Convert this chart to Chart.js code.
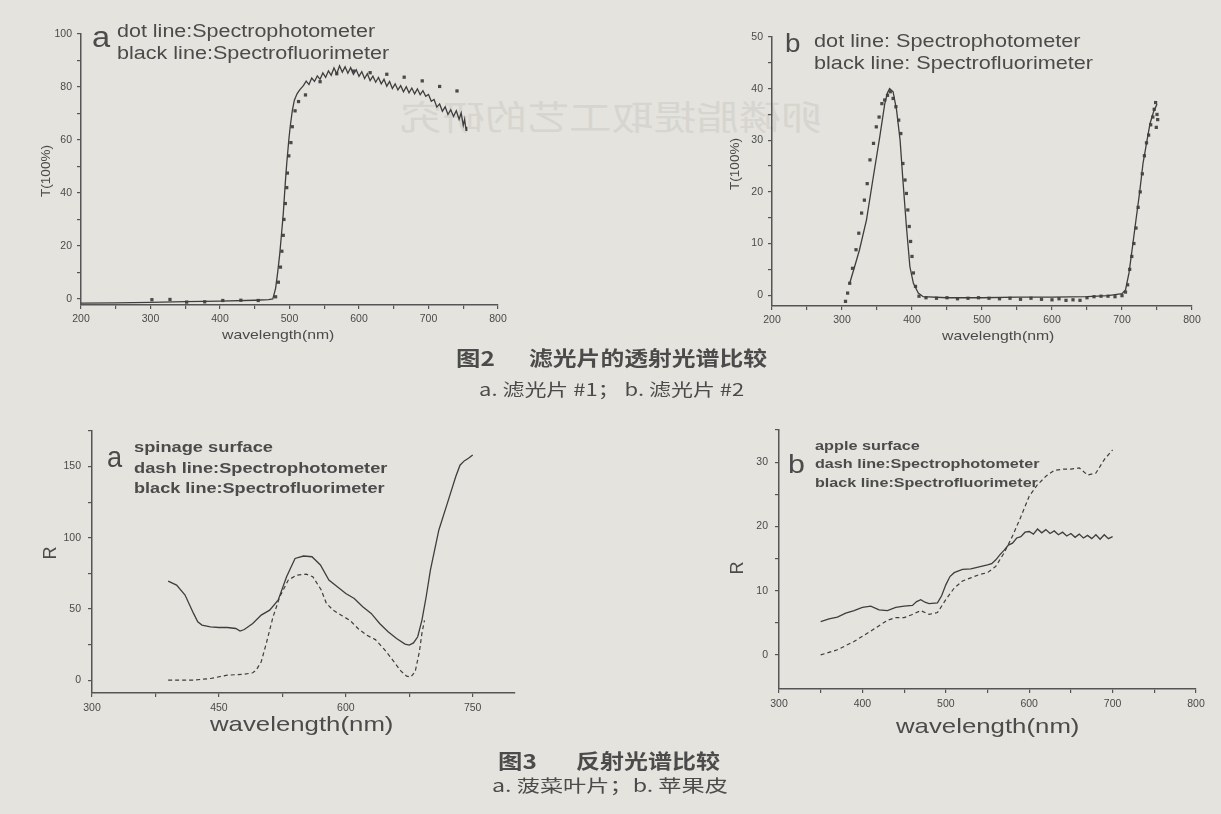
<!DOCTYPE html>
<html lang="zh-CN">
<head>
<meta charset="UTF-8">
<title>滤光片的透射光谱比较 / 反射光谱比较</title>
<script src="https://cdn.jsdelivr.net/npm/chart.js"></script>
<style>
  body { margin: 0; background: #e4e3de; }
  #page { position: relative; width: 1221px; height: 814px; overflow: hidden; background: #e4e3de; }
  #page canvas { position: absolute; left: 0; top: 0; }
  .t { position: absolute; white-space: pre; line-height: 1; color: #4b4b4b;
       font-family: "Liberation Sans", Arial, sans-serif; transform-origin: 0 0; }
  .cjk { font-family: "Noto Sans CJK SC", sans-serif; }
  .ghost { color: #d7d5cf; }
</style>
</head>
<body>
<div id="page">
  <canvas id="c1" width="1221" height="814"></canvas>
  <canvas id="c2" width="1221" height="814"></canvas>
  <canvas id="c3" width="1221" height="814"></canvas>
  <canvas id="c4" width="1221" height="814"></canvas>
</div>

<script>
// ---- 图2 a : 滤光片 #1 ----
const a1FluorNm = [200, 250, 300, 350, 400, 450, 470, 476, 480, 483,
    486, 489, 491, 494, 496, 499, 501, 504, 507, 511,
    515, 520, 524, 528, 532, 536, 540, 544, 548, 552,
    556, 560, 564, 568, 572, 576, 580, 584, 588, 592,
    596, 600, 604, 608, 612, 616, 620, 624, 628, 632,
    636, 640, 644, 648, 652, 656, 660, 664, 668, 672,
    676, 680, 684, 688, 692, 696, 700, 704, 708, 712,
    716, 720, 724, 728, 732, 736, 740, 744, 747, 750,
    752, 754, 755];
const a1FluorT = [-1.6, -1.5, -1.3, -1.0, -0.8, -0.5, -0.3, 0, 4, 10,
    17, 26, 32, 44, 51, 60, 65, 71, 75, 77.5,
    79, 80.5, 82.2, 80.9, 83.4, 82.1, 84.2, 82.9, 85.3, 83.6,
    86.1, 84.4, 87.2, 85.0, 88.0, 85.6, 87.6, 85.2, 87.3, 84.8,
    86.5, 84.0, 85.8, 83.2, 85.0, 82.4, 84.1, 81.8, 83.6, 81.2,
    82.9, 80.3, 82.1, 79.4, 81.2, 78.9, 80.5, 78.2, 80.1, 77.8,
    79.6, 77.4, 79.3, 77.1, 78.6, 76.5, 77.2, 74.6, 75.3, 72.4,
    73.6, 70.8, 72.5, 69.6, 71.4, 68.9, 71.0, 67.8, 70.2, 65.5,
    67.8, 63.6, 65.0];
const a1PhotoNm = [302, 328, 352, 378, 404, 430, 455, 480, 484, 487,
    489, 491, 492, 494, 496, 497, 499, 502, 504, 508,
    513, 523, 544, 568, 592, 616, 640, 665, 691, 716, 741];
const a1PhotoT = [-0.3, -0.2, -1.2, -1.1, -0.6, -0.5, -0.6, 0.8, 6.3, 12,
    18, 24, 30, 36, 42, 47.5, 54, 59, 65, 71,
    74.5, 77, 82, 85, 86, 85.4, 84.8, 83.7, 82.3, 80.2, 78.5];

// ---- 图2 b : 滤光片 #2 ----
const b1FluorNm = [311, 318, 325, 335, 344, 354, 361, 365, 368, 373,
    378, 383, 387, 392, 397, 402, 409, 416, 450, 500,
    550, 600, 650, 680, 700, 705, 710, 715, 720, 725,
    730, 735, 740, 745, 750];
const b1FluorT = [2.3, 5.5, 8.8, 14.6, 22.3, 30.7, 37, 39.2, 40, 39.4,
    35.8, 30, 22.3, 13.3, 5.5, 2.3, 0.4, -0.3, -0.5, -0.5,
    -0.4, -0.4, -0.3, -0.1, 0.3, 1, 4.3, 9.4, 14.6, 19.7,
    25.5, 29.4, 33.2, 35.5, 37];
const b1PhotoNm = [305, 308, 311, 315, 320, 324, 328, 332, 336, 340,
    345, 349, 353, 357, 361, 365, 369, 373, 377, 381,
    384, 387, 390, 392, 394, 396, 398, 400, 402, 405,
    410, 420, 435, 450, 465, 480, 495, 510, 525, 540,
    555, 570, 585, 600, 610, 620, 630, 640, 650, 660,
    670, 680, 690, 700, 705, 708, 711, 714, 717, 720,
    723, 726, 729, 732, 735, 738, 741, 744, 746, 748,
    749, 750, 751];
const b1PhotoT = [-1.2, 0.4, 2.3, 5.2, 8.8, 12, 15.9, 18.4, 21.6, 26.2,
    29.4, 32.6, 34.5, 37.1, 37.8, 38.7, 39.4, 38.1, 36.5, 33.9,
    31.3, 25.5, 22.3, 19.7, 16.5, 13.3, 10.4, 7.5, 4.3, 1.7,
    -0.2, -0.5, -0.6, -0.5, -0.7, -0.6, -0.5, -0.6, -0.7, -0.6,
    -0.8, -0.6, -0.8, -0.9, -0.7, -1.0, -0.9, -1.0, -0.5, -0.3,
    -0.2, -0.2, -0.3, -0.1, 0.6, 2, 5, 7.5, 10, 13,
    17, 20, 23.5, 27, 29.5, 31, 33, 34.5, 36, 37.3,
    32.5, 35, 34];

// ---- 图3 a : 菠菜叶片 ----
const a2FluorNm = [390, 400, 410, 420, 425, 430, 440, 450, 460, 470,
    475, 480, 490, 500, 510, 520, 530, 540, 550, 560,
    570, 580, 590, 600, 610, 620, 630, 640, 650, 660,
    670, 675, 680, 685, 690, 695, 700, 710, 720, 730,
    735, 740, 745, 750];
const a2FluorR = [69.6, 66.8, 59.8, 46.9, 41, 38.7, 37.5, 37, 37, 36.3,
    34.5, 35.6, 39.8, 45.7, 49.2, 56.2, 72.6, 85.5, 87.2, 86.7,
    80.9, 70.3, 65.6, 60.9, 57.4, 51.6, 46.9, 39.8, 34, 29.3,
    25.3, 24.6, 26.2, 30.5, 42.2, 58.6, 77.3, 105.5, 124.2, 143,
    151, 154, 155.8, 158.2];
const a2PhotoNm = [390, 420, 440, 460, 480, 490, 494, 500, 506, 514,
    522, 532, 542, 553, 561, 571, 577, 585, 595, 605,
    615, 625, 635, 645, 655, 665, 672, 677, 682, 687,
    690, 693];
const a2PhotoR = [0, 0, 1.2, 3.5, 4.2, 5.2, 7, 12.9, 25.8, 44.5,
    58.6, 70.3, 73.8, 74.5, 72.7, 63.3, 54, 49.2, 45.5, 42,
    36, 31.5, 28.5, 22, 14.5, 6.5, 2.8, 2.3, 6, 20,
    33, 42];

// ---- 图3 b : 苹果皮 ----
const b2FluorNm = [350, 360, 370, 380, 390, 400, 410, 420, 430, 440,
    450, 460, 465, 470, 475, 480, 490, 495, 500, 505,
    510, 520, 530, 540, 550, 555, 560, 565, 570, 575,
    580, 585, 590, 595, 600, 605, 610, 615, 620, 625,
    630, 635, 640, 645, 650, 655, 660, 665, 670, 675,
    680, 685, 690, 695, 700];
const b2FluorR = [5.2, 5.6, 5.9, 6.5, 6.9, 7.4, 7.6, 7, 6.9, 7.4,
    7.6, 7.7, 8.3, 8.6, 8.2, 8.0, 8.1, 9.2, 10.9, 12.2,
    12.8, 13.3, 13.4, 13.7, 14, 14.2, 14.8, 15.6, 16.3, 17.1,
    17.4, 18.2, 18.4, 19.1, 19.2, 18.8, 19.6, 19.0, 19.5, 18.9,
    19.3, 18.7, 19.1, 18.5, 18.9, 18.3, 18.8, 18.2, 18.6, 18.1,
    18.7, 18.0, 18.7, 18.1, 18.4];
const b2PhotoNm = [350, 370, 390, 410, 430, 440, 450, 460, 470, 480,
    490, 500, 510, 520, 530, 540, 550, 560, 570, 580,
    590, 600, 610, 620, 630, 640, 650, 660, 670, 680,
    690, 700];
const b2PhotoR = [0, 0.8, 2.1, 3.7, 5.4, 5.8, 5.8, 6.3, 6.9, 6.3,
    6.6, 8.6, 10.4, 11.5, 12, 12.5, 12.8, 13.8, 15.9, 18.5,
    21.5, 24.7, 26.5, 27.8, 28.7, 28.9, 28.9, 29.1, 28, 28.3,
    30.4, 31.9];

// ---- 刻度 ----
const fig2XTicks = [200, 250, 300, 350, 400, 450, 500, 550, 600, 650, 700, 750, 800];
const fig2XLabels = [200, 300, 400, 500, 600, 700, 800];
const a1YTicks = [0, 10, 20, 30, 40, 50, 60, 70, 80, 90, 100];
const a1YLabels = [0, 20, 40, 60, 80, 100];
const b1YTicks = [0, 5, 10, 15, 20, 25, 30, 35, 40, 45, 50];
const b1YLabels = [0, 10, 20, 30, 40, 50];
const a2XTicks = [300, 375, 450, 525, 600, 675, 750];
const a2XLabels = [300, 450, 600, 750];
const a2YTicks = [0, 25, 50, 75, 100, 125, 150, 175];
const a2YLabels = [0, 50, 100, 150];
const b2XTicks = [300, 350, 400, 450, 500, 550, 600, 650, 700, 750, 800];
const b2XLabels = [300, 400, 500, 600, 700, 800];
const b2YTicks = [0, 5, 10, 15, 20, 25, 30, 35];
const b2YLabels = [0, 10, 20, 30];

const W = 1221, H = 814, YW = 40, XH = 20;
const ink = '#3e3e3e';
const axisInk = '#555';

function pts(xs, ys) {
    return xs.map((x, i) => ({ x: x, y: ys[i] }));
}

function solid(xs, ys) {
    return { data: pts(xs, ys), showLine: true, pointRadius: 0, borderColor: ink, borderWidth: 1.3 };
}
function dashed(xs, ys) {
    return { data: pts(xs, ys), showLine: true, pointRadius: 0, borderColor: ink, borderWidth: 1.2, borderDash: [4, 3] };
}
function dots(xs, ys) {
    return { data: pts(xs, ys), showLine: false, pointStyle: 'rect', pointRadius: 2.3,
             backgroundColor: '#4a4a4a', borderWidth: 0 };
}

function axis(min, max, tickList, labelList, isX, pad) {
    return {
        type: 'linear', min: min, max: max,
        afterBuildTicks: s => { s.ticks = tickList.map(v => ({ value: v })); },
        afterFit: s => { if (isX) s.height = XH; else s.width = YW; },
        ticks: {
            autoSkip: false, maxRotation: 0, padding: pad,
            color: '#4a4a4a', font: { size: 10.5, family: '"Liberation Sans", Arial, sans-serif' },
            callback: v => labelList.includes(v) ? v : ''
        },
        grid: { drawOnChartArea: false, tickLength: 4, color: axisInk, lineWidth: 1.2 },
        border: { color: axisInk, width: 1.5 }
    };
}

function plot(id, area, x, y, datasets) {
    new Chart(document.getElementById(id), {
        type: 'scatter',
        data: { datasets: datasets },
        options: {
            responsive: false, animation: false,
            layout: { padding: { left: area.l - YW, top: area.t, right: W - area.r, bottom: H - area.b - XH } },
            plugins: { legend: { display: false }, tooltip: { enabled: false } },
            scales: { x: x, y: y }
        }
    });
}

// ---- 文字 ----
const page = document.getElementById('page');

// 纸背透过来的标题（镜像、很淡）
(function () {
    const d = document.createElement('div');
    d.className = 't cjk ghost';
    d.textContent = '卵磷脂提取工艺的研究';
    d.style.fontSize = '34px';
    d.style.left = '400px';
    d.style.top = '99px';
    page.insertBefore(d, page.firstChild);
    const k = 423 / d.offsetWidth;
    d.style.transform = 'translate(423px,0) scaleX(' + (-k).toFixed(3) + ')';
})();

plot('c1', { l: 81, t: 34, r: 498, b: 305 },
    axis(200, 800, fig2XTicks, fig2XLabels, true, 4),
    axis(-2.3, 100, a1YTicks, a1YLabels, false, 5),
    [solid(a1FluorNm, a1FluorT), dots(a1PhotoNm, a1PhotoT)]);

plot('c2', { l: 772, t: 37, r: 1192, b: 306 },
    axis(200, 800, fig2XTicks, fig2XLabels, true, 4),
    axis(-2.1, 50, b1YTicks, b1YLabels, false, 5),
    [solid(b1FluorNm, b1FluorT), dots(b1PhotoNm, b1PhotoT)]);

plot('c3', { l: 92, t: 431, r: 515, b: 693 },
    axis(300, 800, a2XTicks, a2XLabels, true, 5),
    axis(-9, 175, a2YTicks, a2YLabels, false, 7),
    [solid(a2FluorNm, a2FluorR), dashed(a2PhotoNm, a2PhotoR)]);

plot('c4', { l: 779, t: 430, r: 1196, b: 689 },
    axis(300, 800, b2XTicks, b2XLabels, true, 5),
    axis(-5.3, 35, b2YTicks, b2YLabels, false, 7),
    [solid(b2FluorNm, b2FluorR), dashed(b2PhotoNm, b2PhotoR)]);

// 横排文字：left/right 为两端，base 为基线
function text(txt, left, right, base, size, opt) {
    opt = opt || {};
    const d = document.createElement('div');
    d.className = 't' + (opt.cjk ? ' cjk' : '');
    d.textContent = txt;
    d.style.fontSize = size + 'px';
    if (opt.bold) d.style.fontWeight = 'bold';
    d.style.left = left + 'px';
    d.style.top = (base - size * (opt.cjk ? 0.88 : 0.8465)) + 'px';
    page.appendChild(d);
    const w = d.offsetWidth;
    d.style.transform = 'scaleX(' + ((right - left) / w).toFixed(3) + ')';
}
// 竖排文字（逆时针旋转）
function vtext(txt, cx, cy, size) {
    const d = document.createElement('div');
    d.className = 't';
    d.textContent = txt;
    d.style.fontSize = size + 'px';
    d.style.left = cx + 'px';
    d.style.top = cy + 'px';
    d.style.transformOrigin = '50% 50%';
    d.style.transform = 'translate(-50%,-50%) rotate(-90deg)';
    page.appendChild(d);
}

// 图2 a
text('a', 92, 110, 48, 29);
text('dot line:Spectrophotometer', 117, 375, 37, 18);
text('black line:Spectrofluorimeter', 117, 389, 59, 18);
text('wavelength(nm)', 222, 335, 339.5, 13);
vtext('T(100%)', 46, 171, 13.5);

// 图2 b
text('b', 785, 800, 52, 26);
text('dot line: Spectrophotometer', 814, 1080, 47, 19);
text('black line: Spectrofluorimeter', 814, 1093, 69, 19);
text('wavelength(nm)', 942, 1055, 340.5, 13);
vtext('T(100%)', 735, 164, 13.5);

// 图3 a
text('a', 107, 122, 468, 29);
text('spinage surface', 134, 273, 452, 15.5, { bold: true });
text('dash line:Spectrophotometer', 134, 387, 473, 15.5, { bold: true });
text('black line:Spectrofluorimeter', 134, 384, 493, 15.5, { bold: true });
text('wavelength(nm)', 210, 393, 731, 21);
vtext('R', 50, 553, 18);

// 图3 b
text('b', 788, 805, 473, 25);
text('apple surface', 815, 920, 450, 13, { bold: true });
text('dash line:Spectrophotometer', 815, 1040, 468.5, 13, { bold: true });
text('black line:Spectrofluorimeter', 815, 1038, 487, 13, { bold: true });
text('wavelength(nm)', 896, 1079, 733, 21);
vtext('R', 737, 568, 18);

// 图题
text('图2', 456, 495, 358 + 7.4, 20, { cjk: true, bold: true });
text('滤光片的透射光谱比较', 529, 767, 358 + 7.4, 20, { cjk: true, bold: true });
text('a. 滤光片 #1； b. 滤光片 #2', 479, 744, 389 + 6.3, 17, { cjk: true });
text('图3', 498, 537, 761 + 7.4, 20, { cjk: true, bold: true });
text('反射光谱比较', 576, 720, 761 + 7.4, 20, { cjk: true, bold: true });
text('a. 菠菜叶片；b. 苹果皮', 492, 728, 785 + 6.3, 17, { cjk: true });
</script>
</body>
</html>
